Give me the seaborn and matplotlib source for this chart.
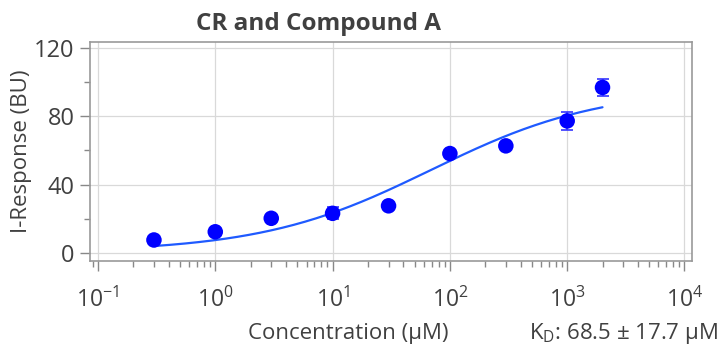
import numpy as np
import pandas as pd
import matplotlib
matplotlib.use("Agg")
import matplotlib.pyplot as plt
import seaborn as sns

# ---- data ----
conc = [0.3, 1, 3, 10, 30, 100, 300, 1000, 2000]
resp = [7.6, 12.4, 20.3, 23.2, 27.6, 58.2, 62.7, 77.3, 96.9]
err = [1.0, 1.0, 1.0, 3.5, 1.0, 1.0, 1.0, 5.4, 4.8]
# fitted Hill model parameters
kd = 68.5
kd_err = 17.7
rmax = 96.0
hill_n = 0.6
offset = 0.5
fit_range = [0.3, 2000]
x_ticks = [0.1, 1, 10, 100, 1000, 10000]
x_ticklabels = [r"$10^{-1}$", r"$10^{0}$", r"$10^{1}$", r"$10^{2}$", r"$10^{3}$", r"$10^{4}$"]
y_ticks = [0, 40, 80, 120]
title = "CR and Compound A"
xlabel = "Concentration (μM)"
ylabel = "I-Response (BU)"

sns.set_theme(style="white")
plt.rcParams["font.family"] = ["Open Sans", "DejaVu Sans"]
plt.rcParams["mathtext.fontset"] = "custom"
plt.rcParams["mathtext.rm"] = "Open Sans"
plt.rcParams["mathtext.it"] = "Open Sans"
plt.rcParams["mathtext.default"] = "regular"

txt = "#404040"
fig = plt.figure(figsize=(7.24, 3.48), dpi=100)
ax = fig.add_axes([90/724, 1-261/348, 602/724, (261-42)/348])

df = pd.DataFrame({"conc": conc, "resp": resp})
xf = np.geomspace(fit_range[0], fit_range[1], 200)
yf = offset + rmax * xf**hill_n / (kd**hill_n + xf**hill_n)
fit = pd.DataFrame({"conc": xf, "resp": yf})

sns.lineplot(data=fit, x="conc", y="resp", ax=ax, color="#1f5aff", lw=1.6, zorder=3)
ax.errorbar(conc, resp, yerr=err, fmt="none", ecolor="#3333ff", elinewidth=1.2,
            capsize=4, capthick=1.2, zorder=4)
sns.scatterplot(data=df, x="conc", y="resp", ax=ax, color="#0000ff", s=125,
                edgecolor="none", zorder=5)

ax.set_xscale("log")
ax.set_xlim(10**-1.068, 10**4.064)
ax.set_ylim(-4.7, 123.5)
ax.set_xticks(x_ticks)
ax.set_xticklabels(x_ticklabels)
ax.set_yticks(y_ticks)
ax.set_yticks([20, 60, 100], minor=True)
ax.xaxis.set_minor_locator(matplotlib.ticker.LogLocator(base=10, subs=np.arange(2, 10)))
ax.xaxis.set_minor_formatter(matplotlib.ticker.NullFormatter())

ax.grid(True, which="major", color="#d9d9d9", lw=0.9)
ax.tick_params(axis="both", which="major", direction="out", length=7, width=1,
               color="#888888", labelcolor=txt, bottom=True, left=True)
ax.tick_params(axis="both", which="minor", direction="out", length=4, width=1,
               color="#888888", bottom=True, left=True)
ax.tick_params(axis="x", which="major", pad=12, labelsize=16.5)
ax.tick_params(axis="y", which="major", pad=4, labelsize=17)
for s in ax.spines.values():
    s.set_color("#999999")
    s.set_linewidth(1.2)

ax.set_xlabel("")
ax.set_ylabel("")
fig.text(348/724, 1-333/348, xlabel, ha="center", va="center", fontsize=16, color=txt)
fig.text(22/724, 1-151/348, ylabel, ha="center", va="center", rotation=90, fontsize=16, color=txt)
fig.text(318/724, 1-24/348, title, ha="center", va="center", fontsize=17.5, fontweight="bold", color=txt)
fig.text(718/724, 1-333/348, r"K$_{D}$: " + f"{kd} ± {kd_err} μM", ha="right", va="center",
         fontsize=16, color=txt)

fig.savefig("out.png", dpi=100)
